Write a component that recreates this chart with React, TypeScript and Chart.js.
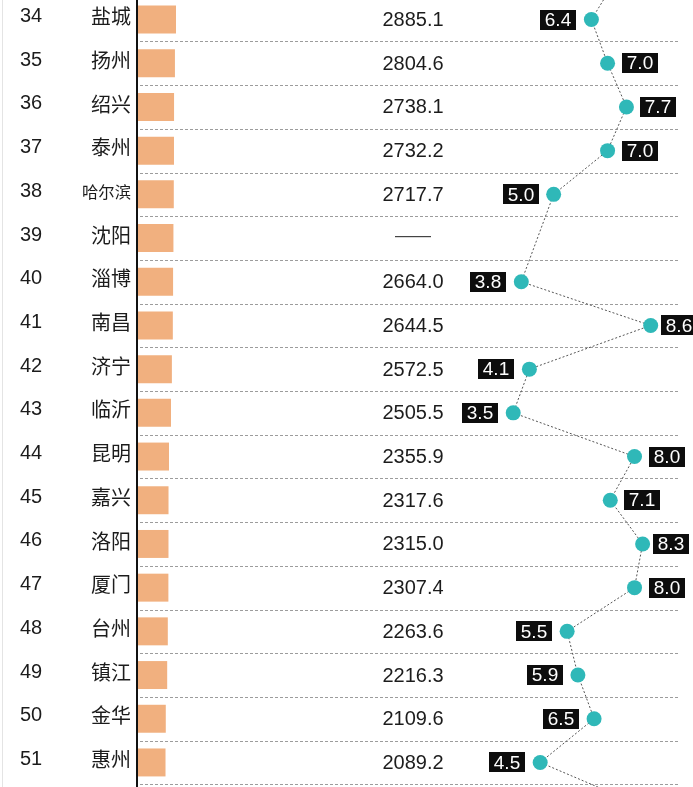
import React, { useEffect, useRef } from 'react';
import { Chart, registerables } from 'chart.js';

Chart.register(...registerables);

// Rows 33 and 52 sit just outside the visible window; only their line stubs show.
const ranks = ['33', '34', '35', '36', '37', '38', '39', '40', '41', '42', '43', '44', '45', '46', '47', '48', '49', '50', '51', '52'];
const cities = ['', '盐城', '扬州', '绍兴', '泰州', '哈尔滨', '沈阳', '淄博', '南昌', '济宁', '临沂', '昆明', '嘉兴', '洛阳', '厦门', '台州', '镇江', '金华', '惠州', ''];
const gdpText = ['', '2885.1', '2804.6', '2738.1', '2732.2', '2717.7', '——', '2664.0', '2644.5', '2572.5', '2505.5', '2355.9', '2317.6', '2315.0', '2307.4', '2263.6', '2216.3', '2109.6', '2089.2', ''];
const gdpBar = [null, 2885.1, 2804.6, 2738.1, 2732.2, 2717.7, 2690, 2664.0, 2644.5, 2572.5, 2505.5, 2355.9, 2317.6, 2315.0, 2307.4, 2263.6, 2216.3, 2109.6, 2089.2, null];
const growth = [7.4, 6.4, 7.0, 7.7, 7.0, 5.0, null, 3.8, 8.6, 4.1, 3.5, 8.0, 7.1, 8.3, 8.0, 5.5, 5.9, 6.5, 4.5, 8.3];

const W = 693;
const H = 874;

const overlay = {
  id: 'overlay',
  beforeDatasetsDraw(chart: any) {
    const { ctx, chartArea } = chart;
    const y = chart.scales.y;
    ctx.save();
    // faint left page edge
    ctx.strokeStyle = '#e4e4e4';
    ctx.lineWidth = 1;
    ctx.beginPath();
    ctx.moveTo(2.5, 0);
    ctx.lineTo(2.5, H);
    ctx.stroke();
    // dashed separators between rows
    ctx.strokeStyle = '#9c9c9c';
    ctx.setLineDash([3, 2]);
    for (let i = 0; i < ranks.length - 1; i++) {
      const yy = Math.round((y.getPixelForValue(i) + y.getPixelForValue(i + 1)) / 2) + 0.5;
      ctx.beginPath();
      ctx.moveTo(chartArea.left + 2, yy);
      ctx.lineTo(chartArea.right, yy);
      ctx.stroke();
    }
    ctx.restore();
  },
  afterDatasetsDraw(chart: any) {
    const { ctx, chartArea } = chart;
    const y = chart.scales.y;
    const lineMeta = chart.getDatasetMeta(1);
    ctx.save();
    // axis line
    ctx.strokeStyle = '#111';
    ctx.lineWidth = 2;
    ctx.beginPath();
    ctx.moveTo(chartArea.left - 1, 0);
    ctx.lineTo(chartArea.left - 1, H);
    ctx.stroke();

    for (let i = 0; i < ranks.length; i++) {
      const yy = y.getPixelForValue(i);
      ctx.fillStyle = '#1c1c1c';
      ctx.textBaseline = 'middle';
      // rank
      ctx.font = '20px "Liberation Sans", Arial, sans-serif';
      ctx.textAlign = 'left';
      ctx.fillText(ranks[i], 20, yy - 3);
      // city
      const name = cities[i];
      const fs = Math.min(20, 49 / Math.max(1, name.length));
      ctx.font = `${fs}px "Noto Sans CJK SC", sans-serif`;
      ctx.textAlign = 'right';
      ctx.fillText(name, chartArea.left - 7, yy - 3);
      // value
      ctx.font = '20px "Liberation Sans", Arial, sans-serif';
      ctx.textAlign = 'center';
      if (gdpText[i] === '——') {
        ctx.fillStyle = '#444';
        ctx.font = '18px "Liberation Sans", Arial, sans-serif';
        ctx.fillText(gdpText[i], chartArea.left + 275, yy - 2);
      } else {
        ctx.fillText(gdpText[i], chartArea.left + 275, yy + 1);
      }
      // growth label
      const g = growth[i];
      const pt = lineMeta.data[i];
      if (g === null || g === undefined || !pt || cities[i] === '') continue;
      const txt = g.toFixed(1);
      ctx.font = '19px "Liberation Sans", Arial, sans-serif';
      const tw = ctx.measureText(txt).width;
      const bw = Math.round(tw + 10);
      const bh = 20;
      const right = g >= 7;
      let bx = right ? pt.x + 14 : pt.x - 15 - bw;
      if (right && bx + bw > W - 5) bx = Math.max(pt.x + 10, W - 5 - bw);
      bx = Math.round(bx);
      ctx.fillStyle = '#0d0d0d';
      ctx.fillRect(bx, Math.round(pt.y - bh / 2), bw, bh);
      ctx.fillStyle = '#ffffff';
      ctx.textAlign = 'center';
      ctx.fillText(txt, bx + bw / 2, pt.y + 1);
    }
    ctx.restore();
  },
};

export default function App() {
  const ref = useRef<HTMLCanvasElement>(null);
  useEffect(() => {
    document.body.style.margin = '0';
    const chart = new Chart(ref.current!, {
      type: 'bar',
      data: {
        labels: ranks,
        datasets: [
          {
            type: 'bar',
            data: gdpBar as any,
            xAxisID: 'x',
            yAxisID: 'y',
            backgroundColor: '#f1b07f',
            barPercentage: 0.8,
            categoryPercentage: 0.8,
            order: 2,
          },
          {
            type: 'line',
            data: growth as any,
            xAxisID: 'x2',
            yAxisID: 'y',
            indexAxis: 'y',
            borderColor: '#555555',
            borderWidth: 1,
            borderDash: [2, 2],
            pointRadius: 7.5,
            pointHoverRadius: 7.5,
            pointBackgroundColor: '#2fb8b8',
            pointBorderWidth: 0,
            spanGaps: true,
            order: 1,
          } as any,
        ],
      },
      options: {
        animation: false,
        responsive: false,
        devicePixelRatio: 1,
        indexAxis: 'y',
        layout: { autoPadding: false, padding: { left: 138, right: 14, top: 0, bottom: 0 } },
        scales: {
          y: { type: 'category', display: false, offset: true },
          x: { type: 'linear', display: false, min: 0, max: 41078 },
          x2: { type: 'linear', display: false, min: -10.42, max: 9.65 },
        },
        plugins: { legend: { display: false }, tooltip: { enabled: false } },
      },
      plugins: [overlay],
    });
    return () => chart.destroy();
  }, []);
  return (
    <div style={{ position: 'relative', width: W, height: 787, overflow: 'hidden', background: '#fff' }}>
      <canvas ref={ref} width={W} height={H} style={{ position: 'absolute', left: 0, top: -46, width: W, height: H }} />
    </div>
  );
}
